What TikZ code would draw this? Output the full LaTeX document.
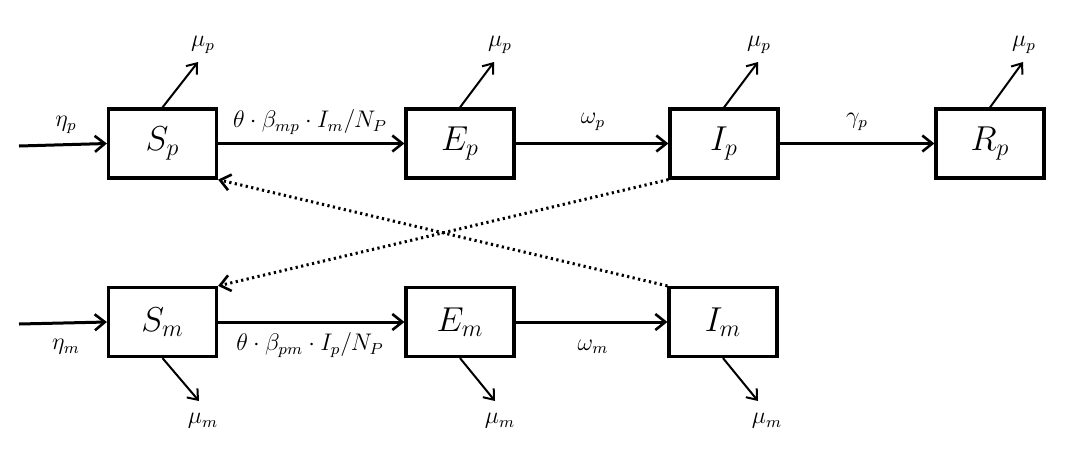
\documentclass[tikz,border=0pt]{standalone}
\usetikzlibrary{arrows.meta}
\begin{document}
\begin{tikzpicture}[x=0.5pt,y=-0.5pt,
  box/.style={draw, line width=1.6pt, minimum width=54pt, minimum height=34.5pt, inner sep=0pt, font=\fontsize{17}{19}\selectfont},
  flow/.style={line width=1.5pt, -{Straight Barb[length=5pt,width=8pt,line width=1.3pt]}},
  loss/.style={line width=1pt, -{Straight Barb[length=4.5pt,width=7pt,line width=1pt]}},
  contact/.style={line width=1.5pt, dash pattern=on 1.1pt off 1.7pt, -{Straight Barb[length=5pt,width=8pt,line width=1.3pt]}},
  lab/.style={font=\fontsize{11.7}{13}\selectfont, inner sep=0pt}]
\useasboundingbox (0,0) rectangle (1068,467);
% compartments
\node[box] (Sp) at (162.5,143.5) {$S_p$};
\node[box] (Ep) at (460,143.5) {$E_p$};
\node[box] (Ip) at (724,143.5) {$I_p$};
\node[box] (Rp) at (990,143.5) {$R_p$};
\node[box] (Sm) at (162.5,322) {$S_m$};
\node[box] (Em) at (460,322) {$E_m$};
\node[box] (Im) at (723,322) {$I_m$};
% inflows
\coordinate (inP) at (19,146);
\coordinate (inM) at (19,324);
\draw[flow] (inP) -- (Sp.west);
\draw[flow] (inM) -- (Sm.west);
\node[lab] (etaP) at (66,125) {$\eta_p$};
\node[lab] (etaM) at (66,347) {$\eta_m$};
% transitions
\draw[flow] (Sp) -- (Ep);
\draw[flow] (Ep) -- (Ip);
\draw[flow] (Ip) -- (Rp);
\draw[flow] (Sm) -- (Em);
\draw[flow] (Em) -- (Im);
\node[lab] (lSE1) at (310,122) {$\theta\cdot\beta_{mp}\cdot I_m/N_P$};
\node[lab] (lEI1) at (593,122) {$\omega_p$};
\node[lab] (lIR1) at (857,122) {$\gamma_p$};
\node[lab] (lSE2) at (310,345) {$\theta\cdot\beta_{pm}\cdot I_p/N_P$};
\node[lab] (lEI2) at (593,347) {$\omega_m$};
% deaths
\coordinate (dSp) at (198,62);
\coordinate (dEp) at (494,62);
\coordinate (dIp) at (758,62);
\coordinate (dRp) at (1023,62);
\coordinate (dSm) at (199,401);
\coordinate (dEm) at (495,401);
\coordinate (dIm) at (758,401);
\draw[loss] (Sp.north) -- (dSp);
\draw[loss] (Ep.north) -- (dEp);
\draw[loss] (Ip.north) -- (dIp);
\draw[loss] (Rp.north) -- (dRp);
\draw[loss] (Sm.south) -- (dSm);
\draw[loss] (Em.south) -- (dEm);
\draw[loss] (Im.south) -- (dIm);
\node[lab] (mSp) at (203,45) {$\mu_p$};
\node[lab] (mEp) at (500,45) {$\mu_p$};
\node[lab] (mIp) at (759,45) {$\mu_p$};
\node[lab] (mRp) at (1024,45) {$\mu_p$};
\node[lab] (mSm) at (203,421) {$\mu_m$};
\node[lab] (mEm) at (500,421) {$\mu_m$};
\node[lab] (mIm) at (767,421) {$\mu_m$};
% cross infection
\draw[contact] (Im.north west) -- (Sp.south east);
\draw[contact] (Ip.south west) -- (Sm.north east);
\end{tikzpicture}
\end{document}
